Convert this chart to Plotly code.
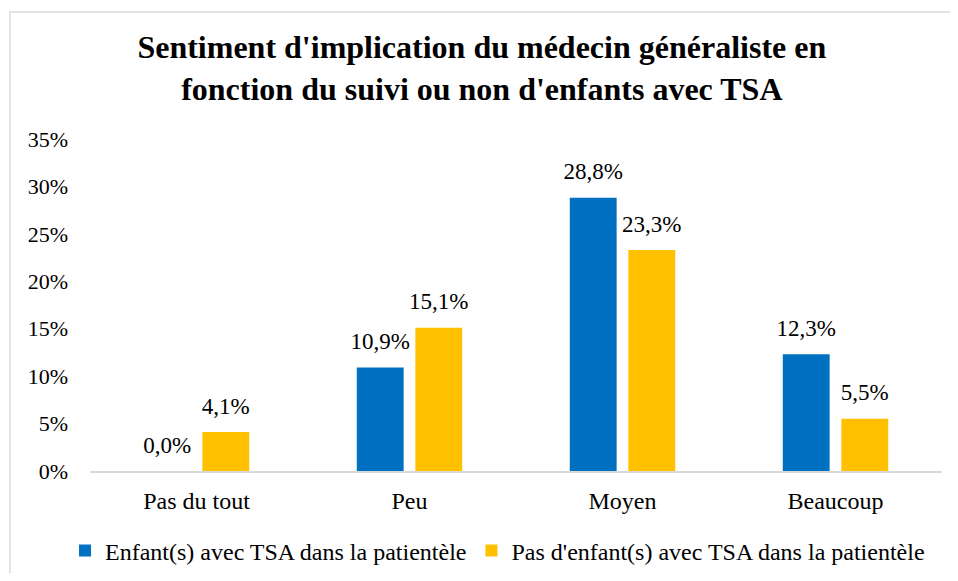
import plotly.graph_objects as go

categories = ["Pas du tout", "Peu", "Moyen", "Beaucoup"]
avec_tsa = [0.0, 0.109, 0.288, 0.123]
sans_tsa = [0.041, 0.151, 0.233, 0.055]
series_names = ["Enfant(s) avec TSA dans la patientèle",
                "Pas d'enfant(s) avec TSA dans la patientèle"]
tick_vals = [0, 0.05, 0.10, 0.15, 0.20, 0.25, 0.30, 0.35]

FONT = "Liberation Serif, Times New Roman, serif"
LABEL_PAD = 0.011  # visual gap between bar top and its label (axis units)

fig = go.Figure()
for i, (vals, name, color) in enumerate([(avec_tsa, series_names[0], "#0070C0"),
                                         (sans_tsa, series_names[1], "#FFC000")]):
    grp = str(i)
    fig.add_trace(go.Bar(x=categories, y=vals, name=name, offsetgroup=grp,
                         marker=dict(color=color, line=dict(width=0)),
                         hovertemplate="%{x}: %{y:.1%}<extra></extra>"))
    # transparent spacer bar carrying the value label a little above the bar
    fig.add_trace(go.Bar(x=categories, y=[LABEL_PAD] * len(vals), base=vals,
                         offsetgroup=grp, showlegend=False, hoverinfo="skip",
                         marker=dict(color="rgba(0,0,0,0)", line=dict(width=0)),
                         customdata=vals, texttemplate="%{customdata:.1%}",
                         textposition="outside", constraintext="none",
                         textfont=dict(family=FONT, size=23, color="#000"),
                         cliponaxis=False))

fig.update_layout(
    width=942, height=565,
    separators=", ",
    paper_bgcolor="white", plot_bgcolor="white",
    margin=dict(l=82, r=8, t=131, b=102, autoexpand=False),
    title=dict(text="Sentiment d'implication du médecin généraliste en<br>fonction du suivi ou non d'enfants avec TSA",
               font=dict(family=FONT, size=32, color="#000", weight="bold"),
               x=0.503, xanchor="center", y=0.911, yanchor="middle"),
    barmode="group", bargap=0.45, bargroupgap=0.2,
    showlegend=True,
    legend=dict(orientation="h", x=-0.0293, xanchor="left",
                y=-0.241, yanchor="middle",
                font=dict(family=FONT, size=24, color="#000"),
                itemwidth=30, traceorder="normal"),
)
fig.update_xaxes(showgrid=False, showline=True, linecolor="#D9D9D9", linewidth=1.5,
                 ticks="", ticklabelstandoff=7,
                 tickfont=dict(family=FONT, size=24, color="#000"))
fig.update_yaxes(range=[0, 0.35], tickvals=tick_vals, tickformat=".0%",
                 showgrid=False, zeroline=False, showline=False, ticks="",
                 ticklabelstandoff=21,
                 tickfont=dict(family=FONT, size=22, color="#000"))

fig.add_shape(type="rect", xref="paper", yref="paper",
              x0=-0.094, x1=1.2, y0=-0.6, y1=1.3825,
              line=dict(color="#D9D9D9", width=1.5), fillcolor="rgba(0,0,0,0)",
              layer="below")

fig.write_html("out.html")
